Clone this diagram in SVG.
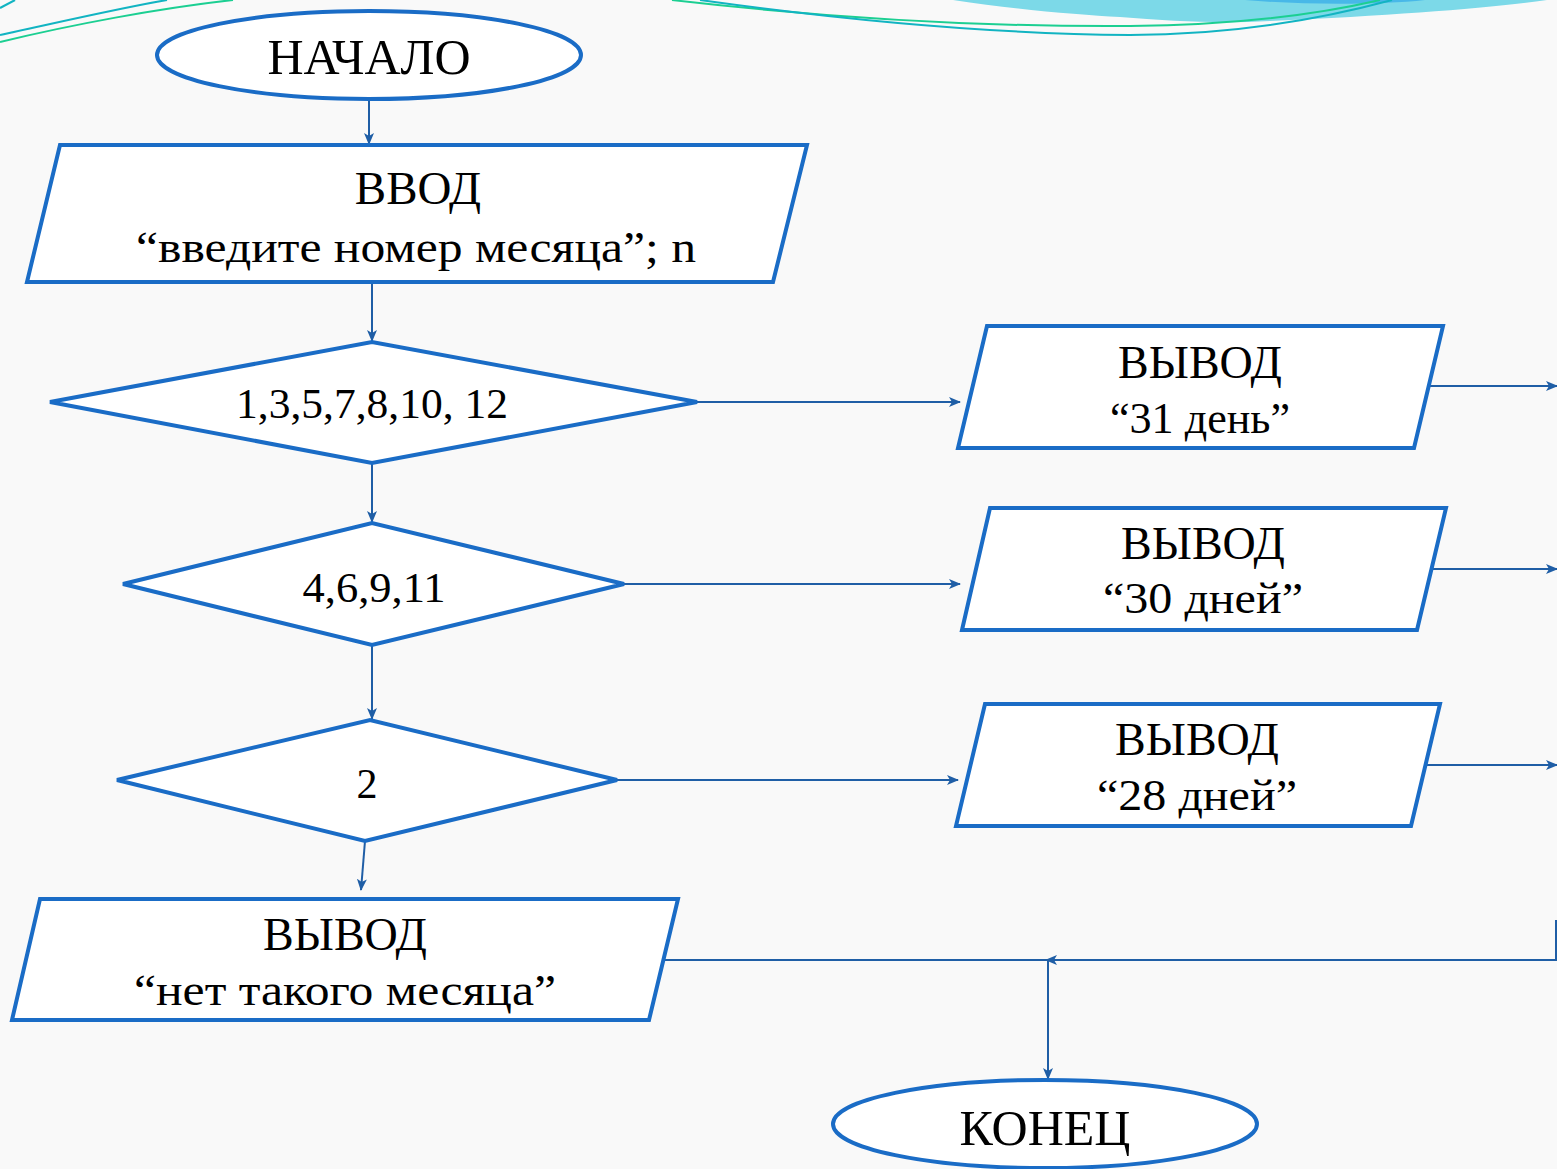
<svg xmlns="http://www.w3.org/2000/svg" width="1557" height="1169" viewBox="0 0 1557 1169">
  <style>
    .node { fill: #ffffff; stroke: #1a6cc6; stroke-width: 4; stroke-linejoin: miter; }
    .conn { fill: none; stroke: #1f5ea6; stroke-width: 2; }
    .t { font-family: "Liberation Serif", "DejaVu Serif", serif; fill: #000; text-anchor: middle; }
  </style>
  <defs>
    <marker id="arr" markerUnits="userSpaceOnUse" markerWidth="14" markerHeight="12" refX="11" refY="5" orient="auto">
      <path d="M0,0 L12,5 L0,10 L3,5 Z" fill="#1f5ea6"/>
    </marker>
  </defs>

  <rect width="1557" height="1169" fill="#f9f9f9"/>

  <g id="decoration">
    <path d="M953,0 C1020,10 1080,15 1120,17 C1170,21 1220,24 1270,21 C1400,15 1490,8 1547,0 Z" fill="#7cd9e8"/>
    <path d="M1245,0 C1300,5 1380,5 1425,0 Z" fill="#48b8e8"/>
    <path d="M672,0 C820,17 980,27 1130,26 C1240,25 1320,14 1380,0" fill="none" stroke="#1ccf92" stroke-width="2"/>
    <path d="M700,0 C850,21 1000,34 1130,35 C1250,35 1340,14 1392,0" fill="none" stroke="#12b4c2" stroke-width="2"/>
    <path d="M0,35 C60,22 120,8 167,0" fill="none" stroke="#12b4c2" stroke-width="2"/>
    <path d="M0,42 C70,25 160,8 233,0" fill="none" stroke="#1ccf92" stroke-width="2"/>
    <path d="M0,8 L15,0" fill="none" stroke="#12b4c2" stroke-width="2"/>
  </g>

  <g id="connectors">
    <line class="conn" x1="369" y1="100" x2="369" y2="144" marker-end="url(#arr)"/>
    <line class="conn" x1="372" y1="284" x2="372" y2="341" marker-end="url(#arr)"/>
    <line class="conn" x1="697" y1="402" x2="960" y2="402" marker-end="url(#arr)"/>
    <line class="conn" x1="1428" y1="386" x2="1557" y2="386" marker-end="url(#arr)"/>
    <line class="conn" x1="372" y1="463" x2="372" y2="522" marker-end="url(#arr)"/>
    <line class="conn" x1="624" y1="584" x2="960" y2="584" marker-end="url(#arr)"/>
    <line class="conn" x1="1432" y1="569" x2="1557" y2="569" marker-end="url(#arr)"/>
    <line class="conn" x1="372" y1="645" x2="372" y2="719" marker-end="url(#arr)"/>
    <line class="conn" x1="617" y1="780" x2="958" y2="780" marker-end="url(#arr)"/>
    <line class="conn" x1="1425" y1="765" x2="1557" y2="765" marker-end="url(#arr)"/>
    <line class="conn" x1="365" y1="841" x2="361" y2="890" marker-end="url(#arr)"/>
    <line class="conn" x1="664" y1="960" x2="1049" y2="960"/>
    <polyline class="conn" points="1556,920 1556,960 1046,960" marker-end="url(#arr)"/>
    <line class="conn" x1="1048" y1="960" x2="1048" y2="1079" marker-end="url(#arr)"/>
  </g>

  <g id="start">
    <ellipse class="node" cx="369" cy="55" rx="212" ry="44"/>
    <text class="t" x="369" y="74" font-size="50">НАЧАЛО</text>
  </g>

  <g id="input">
    <polygon class="node" points="60,145 807,145 773,282 27,282"/>
    <text class="t" x="418" y="204" font-size="47">ВВОД</text>
    <text class="t" x="416" y="262" font-size="45" textLength="560" lengthAdjust="spacingAndGlyphs">“введите номер месяца”; n</text>
  </g>

  <g id="cond1">
    <polygon class="node" points="50,402 372,342 697,402 372,463"/>
    <text class="t" x="372" y="418" font-size="42" textLength="272" lengthAdjust="spacingAndGlyphs">1,3,5,7,8,10, 12</text>
  </g>

  <g id="out31">
    <polygon class="node" points="987,326 1443,326 1414,448 958,448"/>
    <text class="t" x="1200" y="378" font-size="46">ВЫВОД</text>
    <text class="t" x="1200" y="433" font-size="44" textLength="180" lengthAdjust="spacingAndGlyphs">“31 день”</text>
  </g>

  <g id="cond2">
    <polygon class="node" points="123,584 372,523 624,584 372,645"/>
    <text class="t" x="374" y="602" font-size="42" textLength="143" lengthAdjust="spacingAndGlyphs">4,6,9,11</text>
  </g>

  <g id="out30">
    <polygon class="node" points="990,508 1446,508 1417,630 962,630"/>
    <text class="t" x="1203" y="559" font-size="46">ВЫВОД</text>
    <text class="t" x="1203" y="613" font-size="44" textLength="200" lengthAdjust="spacingAndGlyphs">“30 дней”</text>
  </g>

  <g id="cond3">
    <polygon class="node" points="117,780 370,720 617,780 365,841"/>
    <text class="t" x="367" y="798" font-size="42">2</text>
  </g>

  <g id="out28">
    <polygon class="node" points="985,704 1440,704 1411,826 956,826"/>
    <text class="t" x="1197" y="755" font-size="46">ВЫВОД</text>
    <text class="t" x="1197" y="810" font-size="44" textLength="200" lengthAdjust="spacingAndGlyphs">“28 дней”</text>
  </g>

  <g id="outnone">
    <polygon class="node" points="40,899 678,899 649,1020 12,1020"/>
    <text class="t" x="345" y="950" font-size="46">ВЫВОД</text>
    <text class="t" x="345" y="1005" font-size="45" textLength="422" lengthAdjust="spacingAndGlyphs">“нет такого месяца”</text>
  </g>

  <g id="end">
    <ellipse class="node" cx="1045" cy="1124" rx="212" ry="44"/>
    <text class="t" x="1045" y="1145" font-size="50">КОНЕЦ</text>
  </g>
</svg>
